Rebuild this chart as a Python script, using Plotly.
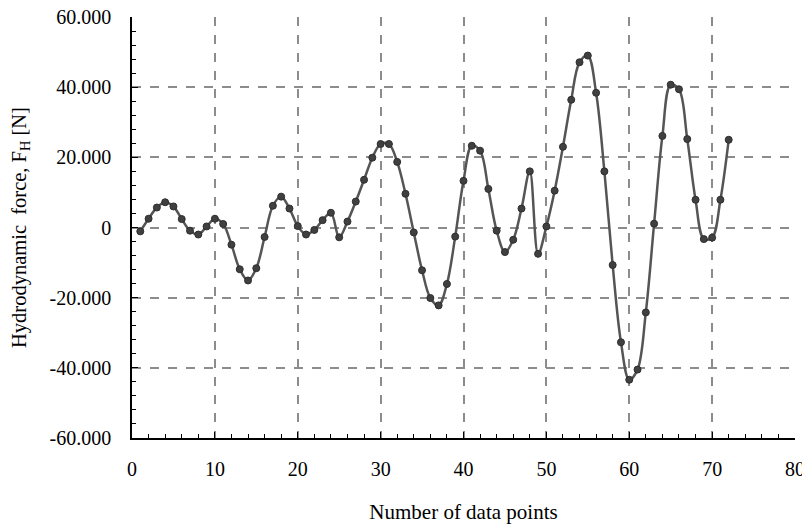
import plotly.graph_objects as go

x_points = list(range(1, 73))
force = [
    -1.1, 2.5, 5.7, 7.2, 6.0, 2.4, -0.9, -2.0, 0.3, 2.5,
    1.0, -4.9, -11.9, -15.1, -11.6, -2.7, 6.2, 8.8, 5.4, 0.4,
    -2.0, -0.7, 2.1, 4.2, -2.8, 1.7, 7.4, 13.6, 19.9, 23.8,
    23.8, 18.7, 9.6, -1.4, -12.2, -20.1, -22.2, -16.1, -2.6, 13.3,
    23.3, 21.9, 11.0, -0.9, -7.0, -3.5, 5.4, 16.0, -7.5, 0.3,
    10.5, 23.0, 36.4, 47.1, 49.0, 38.4, 16.0, -10.7, -32.7, -43.4,
    -40.5, -24.2, 1.1, 26.1, 40.7, 39.4, 25.2, 7.9, -3.3, -2.9,
    7.9, 25.0,
]

y_tickvals = [-60, -40, -20, 0, 20, 40, 60]
y_ticktext = ["-60.000", "-40.000", "-20.000", "0", "20.000", "40.000", "60.000"]
x_tickvals = [0, 10, 20, 30, 40, 50, 60, 70, 80]

font_family = "Liberation Serif"

fig = go.Figure()
fig.add_trace(go.Scatter(
    x=x_points, y=force,
    mode="lines+markers",
    line=dict(color="#555555", width=2.5, shape="spline", smoothing=1.0),
    marker=dict(size=7, color="#404040", line=dict(color="#2e2e2e", width=1)),
    showlegend=False,
))

# page body has an 8px margin, so the figure is sized/offset to compensate
fig.update_layout(
    width=802, height=519,
    margin=dict(l=124, r=15, t=9, b=89),
    paper_bgcolor="white", plot_bgcolor="white",
    font=dict(family=font_family, size=20, color="black"),
)

fig.update_xaxes(
    range=[0, 80], tickvals=x_tickvals, automargin=False,
    ticklabeloverflow="allow",
    showline=True, linecolor="black", linewidth=1.5,
    ticks="inside", ticklen=6, tickcolor="black", tickwidth=1,
    minor=dict(dtick=2, ticks="inside", ticklen=4, tickcolor="black", showgrid=False),
    showgrid=True, gridcolor="#8c8c8c", gridwidth=1.5, griddash="dash",
    zeroline=False,
    ticklabelstandoff=12,
    tickfont=dict(family=font_family, size=20),
    title=dict(text="Number of data points", font=dict(family=font_family, size=21), standoff=26),
)

fig.update_yaxes(
    range=[-60, 60], tickvals=y_tickvals, ticktext=y_ticktext, automargin=False,
    ticklabeloverflow="allow",
    showline=True, linecolor="black", linewidth=1.5,
    ticks="inside", ticklen=6, tickcolor="black", tickwidth=1,
    minor=dict(dtick=4, ticks="inside", ticklen=4, tickcolor="black", showgrid=False),
    showgrid=True, gridcolor="#8c8c8c", gridwidth=1.5, griddash="dash",
    zeroline=False,
    ticklabelstandoff=15,
    tickfont=dict(family=font_family, size=20),
    title=dict(text="Hydrodynamic  force, F<sub>H</sub> [N]", font=dict(family=font_family, size=20.5), standoff=19),
)

fig.write_html("out.html")
